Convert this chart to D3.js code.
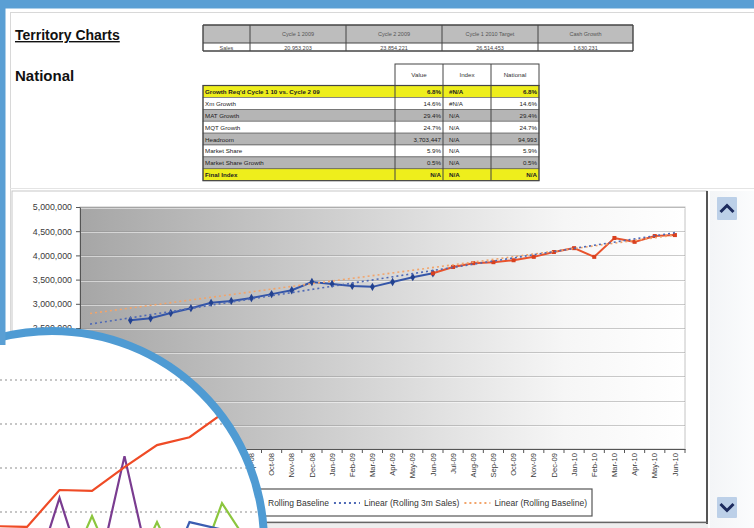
<!DOCTYPE html>
<html><head><meta charset="utf-8">
<script src="https://cdn.jsdelivr.net/npm/d3@7"></script>
<style>body{margin:0;background:#fff;overflow:hidden}svg{display:block;font-family:"Liberation Sans",Arial,sans-serif}</style>
</head><body><svg id="c" width="754" height="528"></svg>
<script>
// ---------- data ----------
const months = ["Jan-08","Feb-08","Mar-08","Apr-08","May-08","Jun-08","Jul-08","Aug-08","Sep-08","Oct-08","Nov-08","Dec-08",
  "Jan-09","Feb-09","Mar-09","Apr-09","May-09","Jun-09","Jul-09","Aug-09","Sep-09","Oct-09","Nov-09","Dec-09",
  "Jan-10","Feb-10","Mar-10","Apr-10","May-10","Jun-10"];
const rolling3mSales = [null,null,2660000,2700000,2810000,2910000,3020000,3060000,3120000,3200000,3280000,3450000,
  3410000,3370000,3350000,3450000,3550000,3630000,null,null,null,null,null,null,null,null,null,null,null,null];
const rollingBaseline = [null,null,null,null,null,null,null,null,null,null,null,null,null,null,null,null,null,
  3630000,3760000,3840000,3860000,3900000,3970000,4070000,4150000,3970000,4360000,4280000,4400000,4420000];
const trend3mSales = [{m:"Jan-08",v:2580000},{m:"Jun-10",v:4470000}];
const trendBaseline = [{m:"Jan-08",v:2800000},{m:"Jun-10",v:4420000}];
const yTicks = [0,500000,1000000,1500000,2000000,2500000,3000000,3500000,4000000,4500000,5000000];
const legendItems = ["Rolling 3m Sales","Rolling Baseline","Linear (Rolling 3m Sales)","Linear (Rolling Baseline)"];

const t1Headers = ["","Cycle 1 2009","Cycle 2 2009","Cycle 1 2010 Target","Cash Growth"];
const t1Row = ["Sales","20,953,203","23,854,221","26,514,453","1,630,231"];

const t2Headers = ["Value","Index","National"];
const t2Labels = ["Growth Req'd Cycle 1 10 vs. Cycle 2 09","Xm Growth","MAT Growth","MQT Growth","Headroom","Market Share","Market Share Growth","Final Index"];
const t2Value = ["6.8%","14.6%","29.4%","24.7%","3,703,447","5.9%","0.5%","N/A"];
const t2Index = ["#N/A","#N/A","N/A","N/A","N/A","N/A","N/A","N/A"];
const t2National = ["6.8%","14.6%","29.4%","24.7%","94,993","5.9%","0.5%","N/A"];

// inset (magnified view) series, index -1..7
const insetIdx = [-1,0,1,2,3,4,5,6,7];
const insetRed = [16.8,16.6,25,24.8,30.2,35.2,37,42.3,50];
const insetPurple = [0,0,23.2,0,32.7,0,0,0,0];
const insetGreen = [2,2,2,19.1,2,17.7,2,22,10.7];
const insetBlue = [0,0,0,0,0,0,17.7,16,14];
const insetGrid = [10,20,30,40,50];

// ---------- drawing ----------
const svg = d3.select("#c");
const defs = svg.append("defs");
const font = "Liberation Sans, Arial, sans-serif";

svg.append("rect").attr("width",754).attr("height",528).attr("fill","#fff");
svg.append("line").attr("x1",10).attr("x2",754).attr("y1",12.5).attr("y2",12.5).attr("stroke","#d8d8d8");
svg.append("line").attr("x1",10.5).attr("x2",10.5).attr("y1",12).attr("y2",528).attr("stroke","#d8d8d8");

// titles
svg.append("text").attr("x",15).attr("y",40).attr("font-size",14).attr("font-weight","bold")
  .attr("text-decoration","underline").attr("fill","#111").text("Territory Charts");
svg.append("text").attr("x",15).attr("y",81).attr("font-size",15).attr("font-weight","bold").attr("fill","#111").text("National");

// table 1
const t1x = [203,250,346,442,538,633];
const t1 = svg.append("g");
t1.append("rect").attr("x",203).attr("y",25).attr("width",430).attr("height",18).attr("fill","#bdbdbd");
t1.append("rect").attr("x",203).attr("y",43).attr("width",430).attr("height",8).attr("fill","#fff");
t1Headers.forEach((h,i)=>{
  t1.append("text").attr("x",(t1x[i]+t1x[i+1])/2).attr("y",36).attr("font-size",5.5).attr("text-anchor","middle").attr("fill","#555").text(h);
  t1.append("text").attr("x",(t1x[i]+t1x[i+1])/2).attr("y",49.5).attr("font-size",5.5).attr("text-anchor","middle").attr("fill","#444").text(t1Row[i]);
});
t1x.forEach(x=>t1.append("line").attr("x1",x).attr("x2",x).attr("y1",25).attr("y2",51).attr("stroke","#444").attr("stroke-width",x===203||x===633?1.4:1));
[25,43,51].forEach(y=>t1.append("line").attr("x1",203).attr("x2",633).attr("y1",y).attr("y2",y).attr("stroke","#444").attr("stroke-width",y===43?1:1.4));

// table 2
const t2 = svg.append("g");
const cx2 = [203,395,443,491,539];
const rowH = 11.9, rowY0 = 85.5;
t2.append("rect").attr("x",395).attr("y",64).attr("width",144).attr("height",21.5).attr("fill","#fff").attr("stroke","#444");
[443,491].forEach(x=>t2.append("line").attr("x1",x).attr("x2",x).attr("y1",64).attr("y2",85.5).attr("stroke","#444"));
t2Headers.forEach((h,i)=>t2.append("text").attr("x",(cx2[i+1]+cx2[i+2])/2).attr("y",77).attr("font-size",6.2)
  .attr("text-anchor","middle").attr("fill","#333").text(h));
const rowFill = i => (i===0||i===7) ? "#eeee1c" : (i%2===0 ? "#b5b5b5" : "#fff");
t2Labels.forEach((lab,i)=>{
  const yy = rowY0 + i*rowH;
  const bold = (i===0||i===7);
  const fw = bold?"bold":"normal";
  t2.append("rect").attr("x",203).attr("y",yy).attr("width",336).attr("height",rowH).attr("fill",rowFill(i)).attr("stroke","#555").attr("stroke-width",0.6);
  t2.append("text").attr("x",205).attr("y",yy+8.4).attr("font-size",6.2).attr("font-weight",fw).attr("fill","#222").text(lab);
  t2.append("text").attr("x",441).attr("y",yy+8.4).attr("font-size",6.2).attr("font-weight",fw).attr("text-anchor","end").attr("fill","#222").text(t2Value[i]);
  t2.append("text").attr("x",449).attr("y",yy+8.4).attr("font-size",6.2).attr("font-weight",fw).attr("fill","#222").text(t2Index[i]);
  t2.append("text").attr("x",537).attr("y",yy+8.4).attr("font-size",6.2).attr("font-weight",fw).attr("text-anchor","end").attr("fill","#222").text(t2National[i]);
});
[395,443,491].forEach(x=>t2.append("line").attr("x1",x).attr("x2",x).attr("y1",rowY0).attr("y2",rowY0+8*rowH).attr("stroke","#444"));
t2.append("rect").attr("x",203).attr("y",rowY0).attr("width",336).attr("height",8*rowH).attr("fill","none").attr("stroke","#444").attr("stroke-width",1.2);

// ---------- chart object ----------
svg.append("line").attr("x1",10).attr("x2",754).attr("y1",188.5).attr("y2",188.5).attr("stroke","#e4e4e4");
svg.append("rect").attr("x",12).attr("y",191).attr("width",695).attr("height",331).attr("fill","#fff").attr("stroke","#c8c8c8");
svg.append("line").attr("x1",707).attr("x2",707).attr("y1",191).attr("y2",524).attr("stroke","#555").attr("stroke-width",2);
svg.append("line").attr("x1",12).attr("x2",708).attr("y1",522.5).attr("y2",522.5).attr("stroke","#666").attr("stroke-width",1.5);
svg.append("rect").attr("x",12).attr("y",524).attr("width",696).attr("height",4).attr("fill","#eeeeee");

const P = {l:80, r:685, t:207, b:449};
const x = d3.scaleBand().domain(months).range([P.l,P.r]).padding(0);
const xc = m => x(m) + x.bandwidth()/2;
const y = d3.scaleLinear().domain([0,5000000]).range([P.b,P.t]);

const grad = defs.append("linearGradient").attr("id","pg").attr("x1","0").attr("x2","1").attr("y1","0").attr("y2","0");
grad.append("stop").attr("offset","0").attr("stop-color","#a6a6a6");
grad.append("stop").attr("offset","0.45").attr("stop-color","#d2d2d2");
grad.append("stop").attr("offset","0.8").attr("stop-color","#f6f6f6");
grad.append("stop").attr("offset","1").attr("stop-color","#ffffff");
svg.append("rect").attr("x",P.l).attr("y",P.t).attr("width",P.r-P.l).attr("height",P.b-P.t).attr("fill","url(#pg)").attr("stroke","#c4c4c4");

// gridlines
svg.append("g").selectAll("line").data(yTicks.slice(1)).join("line")
  .attr("x1",P.l).attr("x2",P.r).attr("y1",d=>Math.round(y(d))+0.5).attr("y2",d=>Math.round(y(d))+0.5)
  .attr("stroke","#8c8c8c").attr("stroke-opacity",0.45);
svg.append("g").selectAll("line").data(yTicks.slice(1)).join("line")
  .attr("x1",P.l).attr("x2",P.r).attr("y1",d=>Math.round(y(d))+1.5).attr("y2",d=>Math.round(y(d))+1.5)
  .attr("stroke","#fff").attr("stroke-opacity",0.5);

// y axis
const ya = svg.append("g").attr("transform",`translate(${P.l},0)`)
  .call(d3.axisLeft(y).tickValues(yTicks).tickFormat(d3.format(",")).tickSize(4).tickSizeOuter(0));
ya.select(".domain").attr("stroke","#555");
ya.selectAll(".tick line").attr("stroke","#555");
ya.selectAll("text").attr("font-size",8.8).style("fill","#3a3a3a").attr("font-family",font).attr("x",-8);

// x axis
const xa = svg.append("g").attr("transform",`translate(0,${P.b})`)
  .call(d3.axisBottom(x).tickSize(0).tickSizeOuter(0));
xa.select(".domain").attr("stroke","#555");
xa.selectAll("text").attr("font-size",7.6).style("fill","#3a3a3a").attr("font-family",font)
  .attr("transform","rotate(-90)").attr("x",-4).attr("y",0).attr("dy","0.35em").style("text-anchor","end");
svg.append("g").selectAll("line").data(months.concat(["end"])).join("line")
  .attr("x1",d=>d==="end"?P.r:x(d)).attr("x2",d=>d==="end"?P.r:x(d)).attr("y1",P.b).attr("y2",P.b+4).attr("stroke","#555");

// series
const line = d3.line().defined(d=>d.v!=null).x(d=>xc(d.m)).y(d=>y(d.v));
const s1 = months.map((m,i)=>({m, v:rolling3mSales[i]}));
const s2 = months.map((m,i)=>({m, v:rollingBaseline[i]}));
svg.append("path").datum(s1).attr("d",line).attr("fill","none").attr("stroke","#3556a8").attr("stroke-width",2);
svg.append("path").datum(s2).attr("d",line).attr("fill","none").attr("stroke","#e8532d").attr("stroke-width",2);
svg.append("g").selectAll("path").data(s1.filter(d=>d.v!=null)).join("path")
  .attr("d",d3.symbol(d3.symbolDiamond,20)).attr("transform",d=>`translate(${xc(d.m)},${y(d.v)})`).attr("fill","#22418f");
svg.append("g").selectAll("rect").data(s2.filter(d=>d.v!=null)).join("rect")
  .attr("x",d=>xc(d.m)-2).attr("y",d=>y(d.v)-2).attr("width",4).attr("height",4).attr("fill","#d8401f");
const tl = d3.line().x(d=>xc(d.m)).y(d=>y(d.v));
svg.append("path").datum(trendBaseline).attr("d",tl).attr("fill","none").attr("stroke","#f2a46a").attr("stroke-width",1.6).attr("stroke-dasharray","2,3");
svg.append("path").datum(trend3mSales).attr("d",tl).attr("fill","none").attr("stroke","#4e69b5").attr("stroke-width",1.6).attr("stroke-dasharray","2,3");

// legend
const lg = svg.append("g");
const lgBox = lg.append("rect").attr("y",489).attr("height",27).attr("fill","#fff").attr("stroke","#555").attr("stroke-width",1.2);
const lgStyles = [
  {c:"#3556a8", dash:null, mk:"d"},{c:"#e8532d", dash:null, mk:"s"},
  {c:"#4e69b5", dash:"2,3", mk:null},{c:"#f2a46a", dash:"2,3", mk:null}];
let lx = 0; const items=[];
legendItems.forEach((t,i)=>{
  const g = lg.append("g");
  g.append("line").attr("x1",lx).attr("x2",lx+26).attr("y1",503).attr("y2",503).attr("stroke",lgStyles[i].c).attr("stroke-width",2).attr("stroke-dasharray",lgStyles[i].dash);
  if(lgStyles[i].mk==="d") g.append("path").attr("d",d3.symbol(d3.symbolDiamond,20)).attr("transform",`translate(${lx+13},503)`).attr("fill","#22418f");
  if(lgStyles[i].mk==="s") g.append("rect").attr("x",lx+11).attr("y",501).attr("width",4).attr("height",4).attr("fill","#d8401f");
  const tx = g.append("text").attr("x",lx+30).attr("y",506).attr("font-size",8.5).style("fill","#333").text(t);
  lx += 30 + tx.node().getComputedTextLength() + 5;
  items.push(g);
});
const lgRight = 592, lgLeft = lgRight - lx - 4;
items.forEach(g=>g.attr("transform",`translate(${lgLeft+4},0)`));
lgBox.attr("x",lgLeft).attr("width",lgRight-lgLeft);

// scrollbar
const sg = defs.append("linearGradient").attr("id","sg").attr("x1","0").attr("x2","1");
sg.append("stop").attr("offset","0").attr("stop-color","#f3f5f7");
sg.append("stop").attr("offset","1").attr("stop-color","#fbfcfd");
svg.append("rect").attr("x",710).attr("y",191).attr("width",44).attr("height",337).attr("fill","url(#sg)");
svg.append("rect").attr("x",717).attr("y",197).attr("width",20).attr("height",23).attr("fill","#bcd0e8").attr("rx",1);
svg.append("rect").attr("x",717).attr("y",497).attr("width",20).attr("height",21).attr("fill","#bcd0e8").attr("rx",1);
svg.append("path").attr("d","M720.5,212 L727,205.5 L733.5,212").attr("fill","none").attr("stroke","#1c2b5e").attr("stroke-width",3);
svg.append("path").attr("d","M720.5,504 L727,510.5 L733.5,504").attr("fill","none").attr("stroke","#1c2b5e").attr("stroke-width",3);

// ---------- magnified inset ----------
const C = {x:52, y:543, r:212};
defs.append("clipPath").attr("id","cc").append("circle").attr("cx",C.x).attr("cy",C.y).attr("r",C.r);
const ins = svg.append("g").attr("clip-path","url(#cc)");
ins.append("circle").attr("cx",C.x).attr("cy",C.y).attr("r",C.r).attr("fill","#fff");
const ix = d3.scaleLinear().domain([0,1]).range([27,59.5]);
const iy = d3.scaleLinear().domain([0,10]).range([600,556]);
ins.append("g").selectAll("line").data(insetGrid).join("line")
  .attr("x1",-10).attr("x2",300).attr("y1",d=>iy(d)).attr("y2",d=>iy(d))
  .attr("stroke","#b4b4b4").attr("stroke-width",1.6).attr("stroke-dasharray","2,3");
const il = d3.line().x(d=>ix(d[0])).y(d=>iy(d[1]));
const ser = (arr,c)=>ins.append("path").datum(insetIdx.map((k,i)=>[k,arr[i]])).attr("d",il)
  .attr("fill","none").attr("stroke",c).attr("stroke-width",2.2).attr("stroke-linejoin","miter");
ser(insetGreen,"#8cc63e");
ser(insetBlue,"#3b5db1");
ser(insetPurple,"#7a3c90");
ser(insetRed,"#ef4b26");
svg.append("circle").attr("cx",C.x).attr("cy",C.y).attr("r",C.r).attr("fill","none").attr("stroke","#4f9bd3").attr("stroke-width",8);

// outer blue frame
svg.append("rect").attr("x",0).attr("y",0).attr("width",754).attr("height",8.5).attr("fill","#5a9fd4");
svg.append("rect").attr("x",0).attr("y",0).attr("width",5.5).attr("height",345).attr("fill","#5a9fd4");
</script></body></html>
